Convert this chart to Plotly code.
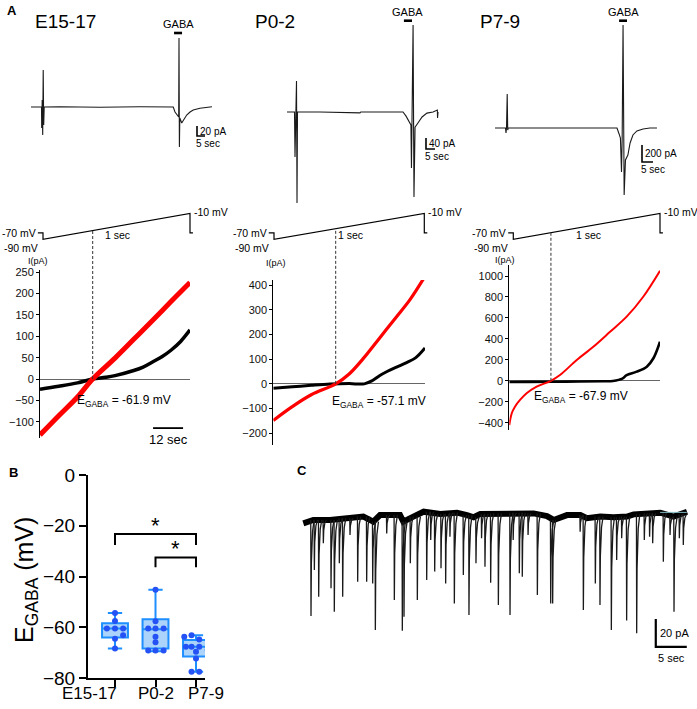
import plotly.graph_objects as go

W, H = 697, 709
FONT = "Liberation Sans, Arial, Helvetica, sans-serif"

# ----------------------------- DATA -----------------------------
titles = ["E15-17", "P0-2", "P7-9"]
egaba = [-61.9, -57.1, -67.9]

# Panel A, top: GABA-evoked currents (time s, current pA)
top1_t = [0, 6.56, 6.69, 7.0, 7.31, 7.63, 7.94, 8.25, 18.1, 43.1, 68.1, 88.1, 88.9, 90.0, 91.25,
          92.1, 92.3, 92.5, 92.75, 93.0, 94.2, 95.0, 97.3, 99.4, 101.4, 105.6, 109.4, 113.1]
top1_i = [0, 0, -42, 14, -56, 74, -36, 0, 0.5, -0.5, 0.5, 0, 0, -10, -16,
          -20, -20, 138, -80, -22, -32, -28, -16, -10, -6, -2.6, -1, 0.6]
top2_t = [0, 4.17, 4.45, 4.73, 5.28, 5.56, 5.84, 18.3, 40.6, 41.0, 51.7, 62.8, 64.5, 66.2, 67.8,
          68.9, 69.2, 69.5, 70.1, 70.6, 71.2, 72.8, 75.1, 77.8, 81.2, 83.6, 83.7, 83.97]
top2_i = [0, 0, -164, 0, 113, -331, 0, 0, -3, 0, 0, 0, 0, -15, -36,
          -47, -204, -47, 317, -309, -55, -40, -18, -4, 0, 7, -22, 0]
top3_t = [0, 4.77, 5.0, 5.23, 5.55, 5.77, 6.0, 29.5, 55.45, 56.4, 57.0, 57.5, 57.8, 58.2,
          58.7, 59.3, 60.4, 61.4, 62.7, 64.5, 67.3, 70.4, 73.6]
top3_i = [0, 0, -59, 0, 400, -24, 0, 0, 0, -70, -118, -518, -118, 1211,
          -788, -376, -318, -176, -82, -35, -12, 0, 0]
gaba_on = [89.4, 65.0, 56.4]
gaba_off = [94.4, 69.5, 60.0]

# Ramp protocol (s, mV)
ramp_t = [-0.035, 0, 0, 1, 1, 1.02]
ramp_v = [-70, -70, -90, -10, -70, -70]

# I-V curves (mV, pA)
iv1_v_red = [-90, -80, -70, -61.9, -50, -40, -30, -20, -10]
iv1_i_red = [-131, -86, -42, 0, 49, 93, 137, 182, 226]
iv1_v_blk = [-90, -80, -70, -61.9, -55, -50, -40, -35, -30, -25, -20, -15, -10]
iv1_i_blk = [-24, -17, -9, 0, 4, 8, 20, 28, 40, 52, 68, 88, 115]
iv2_v_red = [-90, -80, -70, -57.1, -50, -42.5, -34, -25, -18, -10]
iv2_i_red = [-148, -92, -44, 0, 40, 103, 185, 272, 340, 435]
iv2_v_blk = [-90, -80, -70, -60, -50, -42, -38, -34, -30, -25, -20, -15, -10]
iv2_i_blk = [-18, -12, -6, -1, 1, 0, 12, 33, 50, 68, 85, 105, 145]
iv3_v_red = [-90, -88.7, -87, -84.3, -80.8, -75.5, -67.9, -63.1, -54.2, -45.4, -36.5, -27.7, -18.9, -10]
iv3_i_red = [-422, -310, -247, -183, -119, -56, 0, 55, 198, 325, 468, 612, 802, 1050]
iv3_v_blk = [-90, -80, -60, -40, -35, -30, -27.7, -22.4, -17, -13.5, -10]
iv3_i_blk = [-12, -10, -8, -5, -2, 20, 55, 87, 135, 215, 373]
iv_ticks = [[-100, -50, 0, 50, 100, 150, 200, 250],
            [-200, -100, 0, 100, 200, 300, 400],
            [-400, -200, 0, 200, 400, 600, 800, 1000]]

# Panel B: E_GABA per group (mV)
groups = ["E15-17", "P0-2", "P7-9"]
pts_b = [[-54.4, -57.5, -60.5, -60.5, -60.5, -63.2, -64.5, -68.4],
         [-45.2, -57.6, -60.5, -60.5, -60.5, -63.7, -65.9, -69.2, -69.2, -69.2],
         [-63.7, -63.2, -64.8, -67.7, -67.7, -67.7, -69.0, -69.7, -72.3, -77.5, -77.5]]
q1_b = [-64.0, -68.4, -71.5]
med_b = [-60.5, -60.8, -67.7]
q3_b = [-58.4, -56.8, -65.0]
lo_b = [-68.4, -69.5, -77.5]
hi_b = [-54.4, -45.2, -63.2]

# Panel C: spontaneous currents (s, pA)
c_base_t = [0.05, 1.67, 4.35, 7.04, 9.73, 11.34, 12.42, 15.65, 16.18, 17.8, 19.46, 22.15, 24.84,
            26.45, 27.53, 28.6, 31.29, 33.98, 37.2, 39.35, 40.43, 42.58, 44.73, 45.8, 47.96,
            50.11, 52.26, 53.33, 55.48, 57.63, 59.78, 60.86, 61.94]
c_base_i = [-3.8, -1.4, -1.4, -0.2, 1, -2.6, 2.1, 2.1, -2.6, 1, 4.5, 2.9, 3.8,
            2.1, 0.5, 2.9, 3.3, 3.8, 3.3, 1.4, -1.4, 2.1, 2.1, -0.2, 1,
            0.5, 1, 2.6, 3.3, 3.8, 1, 2.6, 4.5]
c_evt_t = [1.29, 1.83, 2.53, 3.28, 4.52, 5.05, 5.86, 6.4, 7.58, 8.82, 10.27, 11.24, 11.67, 13.5,
           14.73, 16.02, 16.29, 17.31, 18.44, 19.95, 20.6, 21.24, 22.26, 23.01, 23.7, 24.41,
           25.86, 26.77, 27.9, 28.8, 29.35, 30.27, 31.51, 33.39, 33.9, 34.89, 35.37, 36.3,
           37.8, 39.95, 40.27, 44.7, 45.22, 47.15, 47.9, 49.73, 50.59, 51.4, 52.2, 53.82,
           55.05, 55.9, 56.4, 58.12, 59.2, 59.84, 60.7, 61.34]
c_evt_pk = [-70, -37.1, -56.2, -18.1, -50.2, -66.9, -32.4, -56.2, -12.1, -45.5, -45.5, -46.7, -80,
            -11, -58.6, -80.5, -70.5, -32.4, -58.6, -44.3, -15.7, -38.3, -35.9, -46.7, -13.3,
            -61, -40.7, -69.3, -32.4, -14.5, -34.8, -46.2, -62.1, -69.3, -15.7, -39.5, -41.9,
            -12.1, -55, -61, -61, -9.8, -65.7, -46.7, -62.1, -80, -30, -14.5, -73.3, -82.4,
            -15.7, -13.3, -18.1, -31.2, -12.1, -66.9, -14.5, -19.3]

# ----------------------------- HELPERS -----------------------------
def fx(px):
    return px / W


def fy(py):
    return 1 - py / H


def cal(p0, v0, p1, v1, pa, pb):
    s = (v1 - v0) / (p1 - p0)
    return [v0 + (pa - p0) * s, v0 + (pb - p0) * s]


def nm(n, a):
    return a if n == 1 else f"{a}{n}"


layout_axes = {}
dom = {}


def add_axes(n, xpx, xr, ypx, yr, xkw=None, ykw=None):
    xa = dict(domain=[fx(xpx[0]), fx(xpx[1])], range=xr, anchor=nm(n, "y"), visible=False,
              showgrid=False, zeroline=False, fixedrange=True, automargin=False)
    ya = dict(domain=[fy(ypx[1]), fy(ypx[0])], range=yr, anchor=nm(n, "x"), visible=False,
              showgrid=False, zeroline=False, fixedrange=True, automargin=False)
    if xkw:
        xa.update(xkw)
    if ykw:
        ya.update(ykw)
    layout_axes[nm(n, "xaxis")] = xa
    layout_axes[nm(n, "yaxis")] = ya
    dom[n] = (ya["domain"], yr)


def ypaper(n, v):
    d, r = dom[n]
    return d[0] + (v - r[0]) / (r[1] - r[0]) * (d[1] - d[0])


fig = go.Figure()
ann = []
shapes = []


def line(n, x, y, color="black", width=1.2, dash=None, shape="linear"):
    fig.add_trace(go.Scatter(x=x, y=y, mode="lines", xaxis=nm(n, "x"), yaxis=nm(n, "y"),
                             line=dict(color=color, width=width, dash=dash, shape=shape),
                             hoverinfo="skip", showlegend=False))


def txt(x, y, s, size=11, xanchor="center", yanchor="middle", bold=False, ref=None,
        xshift=0, yshift=0, angle=0):
    a = dict(x=x, y=y, text=(f"<b>{s}</b>" if bold else s), showarrow=False,
             font=dict(family=FONT, size=size, color="black"), xanchor=xanchor, yanchor=yanchor,
             xshift=xshift, yshift=yshift, textangle=angle)
    if ref is None:
        a.update(xref="paper", yref="paper", x=fx(x), y=fy(y))
    else:
        a.update(xref=nm(ref, "x"), yref=nm(ref, "y"))
    ann.append(a)


# ----------------------------- PANEL A top -----------------------------
top_data = [(top1_t, top1_i), (top2_t, top2_i), (top3_t, top3_i)]
# (x start px, x end px, baseline px, pA per px, s per px)
top_cfg = [(31, 212, 107, 2.0, 0.625), (287, 438, 112, 3.64, 0.556), (495, 657, 128, 11.76, 0.4545)]
scale_pa = [20, 40, 200]
scale_pos = [(197, 126), (426, 138), (642, 145)]
title_x = [33, 253, 478]
for j in range(3):
    n = j + 1
    xs, xe, base, k, ts = top_cfg[j]
    add_axes(n, (xs - 3, xe + 3), [-3 * ts, (xe - xs + 3) * ts], (3, 215),
             [(base - 215) * k, (base - 3) * k])
    t, i = top_data[j]
    line(n, t, i, color="#1a1a1a", width=1.1)
    # GABA bar
    gy = (base - (33 if j == 0 else 20.7)) * k
    line(n, [gaba_on[j], gaba_off[j]], [gy, gy], width=2.6)
    txt((gaba_on[j] + gaba_off[j]) / 2, gy, "GABA", size=11, yanchor="bottom", ref=n, yshift=1)
    # scale bars
    sx = (scale_pos[j][0] - xs) * ts
    sy = (base - scale_pos[j][1]) * k
    line(n, [sx, sx, sx + 5], [sy, sy - scale_pa[j], sy - scale_pa[j]], width=1.6)
    txt(sx, sy - scale_pa[j] / 2, f"{scale_pa[j]} pA", size=10, xanchor="left", ref=n, xshift=1)
    txt(sx, sy - scale_pa[j], "5 sec", size=10, xanchor="left", yanchor="top", ref=n,
        xshift=-3, yshift=0)
    txt(title_x[j], 22, titles[j], size=19, xanchor="left")

txt(12, 11, "A", size=13, bold=True)

# ----------------------------- PANEL A ramps + I-V -----------------------------
# ramp: (hold px, ramp start px, ramp end px, end px)
ramp_cfg = [(38, 43, 190, 193), (269, 274, 424.3, 426), (509.3, 513.3, 660, 662.7)]
iv_cfg = [((40, 190), (270, 438), (272.3, 250, 421.7, -100)),
          ((273.3, 425), (280, 445), (285, 400, 433.3, -200)),
          ((509.3, 660), (265, 430), (276, 1000, 422.7, -400))]
iv_data = [(iv1_v_red, iv1_i_red, iv1_v_blk, iv1_i_blk, 5, 3.5),
           (iv2_v_red, iv2_i_red, iv2_v_blk, iv2_i_blk, 3.2, 3),
           (iv3_v_red, iv3_i_red, iv3_v_blk, iv3_i_blk, 2, 2.6)]
ipa_x = [38, 276, 505]
ipa_y = [261, 263, 260]
eg_pos = [(124, 401), (379, 402), (581, 397)]

for j in range(3):
    n = 4 + j
    hp, rs, re_, ep = ramp_cfg[j]
    xr = cal(rs, 0, re_, 1, hp - 3, ep + 3)
    yr = cal(239.3, -90, 213.5, -10, 250, 200)
    add_axes(n, (hp - 3, ep + 3), xr, (200, 250), yr)
    line(n, ramp_t, ramp_v, width=1.2)
    txt(ramp_t[0], -70, "-70 mV", size=10.5, xanchor="right", ref=n, xshift=0)
    txt(0, -90, "-90 mV", size=10.5, xanchor="right", yanchor="top", ref=n, xshift=-3, yshift=-1)
    txt(1, -10, "-10 mV", size=10.5, xanchor="left", ref=n, xshift=2, yshift=2)
    txt(0.51, -77, "1 sec", size=10.5, ref=n)

    m = 7 + j
    (x0, x1), (y0, y1), (p0, v0, p1, v1) = iv_cfg[j]
    yr2 = cal(p0, v0, p1, v1, y1, y0)
    add_axes(m, (x0, x1), [-90, -10], (y0, y1), yr2,
             ykw=dict(visible=True, showline=True, linecolor="black", linewidth=1,
                      ticks="outside", ticklen=3, tickwidth=1, tickcolor="black",
                      tickvals=iv_ticks[j], tickfont=dict(family=FONT, size=11, color="#111"),
                      zeroline=True, zerolinecolor="#666", zerolinewidth=1))
    vr, ir, vb, ib, wr, wb = iv_data[j]
    line(m, vb, ib, color="black", width=wb, shape="spline")
    line(m, vr, ir, color="#ff0000", width=wr, shape="spline")
    shapes.append(dict(type="line", xref=nm(m, "x"), yref="paper", x0=egaba[j], x1=egaba[j],
                       y0=ypaper(m, 0), y1=ypaper(n, egaba[j]),
                       line=dict(color="#333", width=1, dash="3px,2px")))
    txt(ipa_x[j], ipa_y[j], "I(pA)", size=9)
    txt(eg_pos[j][0], eg_pos[j][1], f"E<sub>GABA</sub> = {egaba[j]} mV", size=12)

# 12 sec scale bar in first I-V panel
line(7, [-29.7, -13.7], [-115, -115], width=1.8)
txt(-21.7, -115, "12 sec", size=13, yanchor="top", ref=7, yshift=-2)

# ----------------------------- PANEL B -----------------------------
add_axes(10, (88, 205), cal(115, 0, 196, 2, 88, 205), (475, 678), [-80, 0],
         xkw=dict(visible=True, showline=True, linecolor="black", linewidth=2, ticks="outside",
                  ticklen=7, tickwidth=2, tickcolor="black", tickvals=[0, 1, 2],
                  showticklabels=False),
         ykw=dict(visible=True, showline=True, linecolor="black", linewidth=2, ticks="outside",
                  ticklen=7, tickwidth=2, tickcolor="black", tickvals=[0, -20, -40, -60, -80],
                  tickfont=dict(family=FONT, size=19, color="black")))
fig.add_trace(go.Box(x=[0, 1, 2], q1=q1_b, median=med_b, q3=q3_b, lowerfence=lo_b,
                     upperfence=hi_b, xaxis="x10", yaxis="y10", width=0.64, whiskerwidth=0.55,
                     fillcolor="rgba(90,170,245,0.5)", line=dict(color="#1e8fff", width=2),
                     boxpoints=False, hoverinfo="skip", showlegend=False))
jit = [[0, 0, -0.2, 0, 0.2, 0.2, 0, 0],
       [0, 0, -0.18, 0, 0.2, 0, 0, -0.18, 0, 0.2],
       [-0.29, -0.11, 0.08, -0.25, -0.11, 0.08, 0.29, 0, 0, -0.11, 0.08]]
for g in range(3):
    fig.add_trace(go.Scatter(x=[g + d for d in jit[g]], y=pts_b[g], mode="markers",
                             xaxis="x10", yaxis="y10", hoverinfo="skip", showlegend=False,
                             marker=dict(color="#2452f5", size=6)))
line(10, [0, 0, 2, 2], [-27.6, -23.3, -23.3, -27.6], width=2)
line(10, [1, 1, 2, 2], [-36.4, -32.5, -32.5, -36.4], width=2)
txt(1, -23.3, "*", size=22, yanchor="bottom", ref=10, yshift=-6)
txt(1.5, -32.5, "*", size=22, yanchor="bottom", ref=10, yshift=-6)
# group labels (placed as in the reference, under the ticks)
grp_lab_x = [89, 156, 206]
for g in range(3):
    txt(grp_lab_x[g], 693, groups[g], size=17)
txt(26, 580, "E<sub>GABA</sub> (mV)", size=25, angle=-90)
txt(13, 472, "B", size=13, bold=True)

# ----------------------------- PANEL C -----------------------------
add_axes(11, (300, 692), cal(303, 0, 303 + 6.2, 1, 300, 692), (490, 672),
         cal(518, 0, 518 - 1.4, 1, 672, 490))
line(11, c_base_t, c_base_i, color="black", width=6)
sx, sy = [], []
for te, pk in zip(c_evt_t, c_evt_pk):
    idx = min(range(len(c_base_t)), key=lambda q: abs(c_base_t[q] - te))
    b = c_base_i[idx]
    sx += [te - 0.04, te, te + 0.06, te + 0.25, te + 0.5, None]
    sy += [b, pk, b + 0.45 * (pk - b), b + 0.12 * (pk - b), b, None]
line(11, sx, sy, color="#1a1a1a", width=1.3)
line(11, [57.6, 61.9], [4, 4], color="#7fb6bd", width=1)
line(11, [56.9, 56.9, 61.9], [-72.1, -92.1, -92.1], width=2.2)
txt(56.9, -82.1, "20 pA", size=11, xanchor="left", ref=11, xshift=2)
txt(59.4, -92.1, "5 sec", size=11, yanchor="top", ref=11, yshift=-3)
txt(302, 470, "C", size=13, bold=True)

fig.update_layout(width=W, height=H, margin=dict(l=0, r=0, t=0, b=0, autoexpand=False),
                  paper_bgcolor="white",
                  plot_bgcolor="rgba(0,0,0,0)", showlegend=False, annotations=ann, shapes=shapes,
                  font=dict(family=FONT), **layout_axes)
fig.write_html("out.html")
